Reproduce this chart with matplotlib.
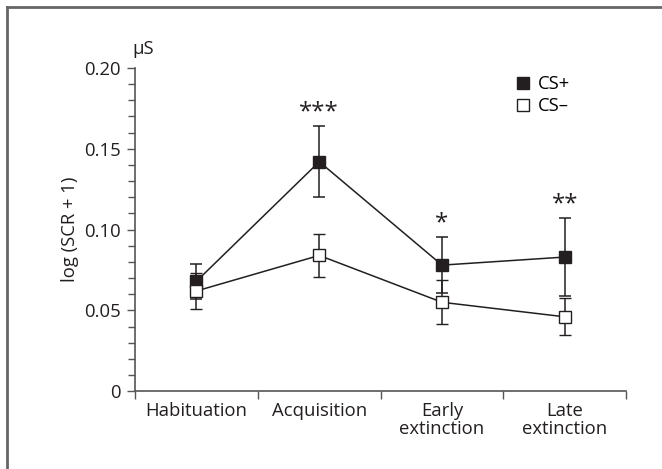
import matplotlib
matplotlib.use("Agg")
import matplotlib.pyplot as plt
from matplotlib.lines import Line2D
from matplotlib.ticker import MultipleLocator, FixedLocator

plt.rcParams['font.family'] = ['Open Sans', 'DejaVu Sans']

phases = ['Habituation', 'Acquisition', 'Early\nextinction', 'Late\nextinction']
cs_plus = [0.068, 0.142, 0.078, 0.083]
cs_plus_err = [0.011, 0.022, 0.0175, 0.024]
cs_minus = [0.062, 0.084, 0.055, 0.046]
cs_minus_err = [0.011, 0.0135, 0.0135, 0.0115]
stars = ['', '***', '*', '**']

ink = '#231f20'
axis_col = '#555555'
fs = 13.3

fig = plt.figure(figsize=(6.62, 4.69), dpi=100)
ax = fig.add_axes([0.204, 0.166, 0.742, 0.689])

x = list(range(len(phases)))
ax.errorbar(x, cs_plus, yerr=cs_plus_err, color=ink, lw=1.1, elinewidth=1.1,
            capsize=4.3, capthick=1.1, marker='s', ms=8.5, mfc=ink, mec=ink,
            zorder=3)
ax.errorbar(x, cs_minus, yerr=cs_minus_err, color=ink, lw=1.1, elinewidth=1.1,
            capsize=4.3, capthick=1.1, marker='s', ms=8.5, mfc='white', mec=ink,
            mew=1.0, zorder=4)

# significance marks over the CS+ error bars
for xi, s, v, e in zip(x, stars, cs_plus, cs_plus_err):
    if s:
        ax.annotate(s, (xi, v + e), xytext=(0, 1), textcoords='offset points',
                    ha='center', va='bottom', fontsize=fs + 4, color=ink)

ax.set_xlim(-0.5, 3.5)
ax.set_ylim(0, 0.20)
ax.set_xticks(x)
ax.set_xticklabels(phases, fontsize=fs, color=ink, linespacing=1.0)
ax.xaxis.set_minor_locator(FixedLocator([-0.5, 0.5, 1.5, 2.5, 3.5]))
ax.tick_params(axis='x', which='major', length=0, pad=8)
ax.tick_params(axis='x', which='minor', length=6, width=1.0, color=axis_col,
               direction='out')

ax.set_yticks([0, 0.05, 0.10, 0.15, 0.20])
ax.set_yticklabels(['0', '0.05', '0.10', '0.15', '0.20'], fontsize=fs, color=ink)
ax.yaxis.set_minor_locator(MultipleLocator(0.01))
ax.tick_params(axis='y', which='major', length=6, width=1.0, color=axis_col, pad=4)
ax.tick_params(axis='y', which='minor', length=5, width=1.0, color=axis_col)

for side in ['top', 'right']:
    ax.spines[side].set_visible(False)
for side in ['left', 'bottom']:
    ax.spines[side].set_color(axis_col)
    ax.spines[side].set_linewidth(1.2)

ax.set_ylabel('log (SCR + 1)', fontsize=fs, color=ink, labelpad=4)
ax.annotate('\u03bcS', (0, 1), xycoords='axes fraction', xytext=(-2, 7),
            textcoords='offset points', ha='left', va='bottom',
            fontsize=fs, color=ink)

handles = [
    Line2D([], [], ls='none', marker='s', ms=8.5, mfc=ink, mec=ink),
    Line2D([], [], ls='none', marker='s', ms=8.5, mfc='white', mec=ink, mew=1.0),
]
ax.legend(handles, ['CS+', 'CS\u2013'], loc='upper right',
          bbox_to_anchor=(0.9, 1.0), frameon=False, fontsize=fs,
          handlelength=0.7, handletextpad=0.45, labelspacing=0.2,
          borderaxespad=0)

# open frame along the left and top edges
fig.add_artist(Line2D([7 / 662, 7 / 662], [0, 1 - 7 / 469], color='#666666',
                      lw=2.0, transform=fig.transFigure))
fig.add_artist(Line2D([7 / 662, 1], [1 - 7 / 469, 1 - 7 / 469], color='#666666',
                      lw=2.0, transform=fig.transFigure))

fig.savefig('out.png', dpi=100)
